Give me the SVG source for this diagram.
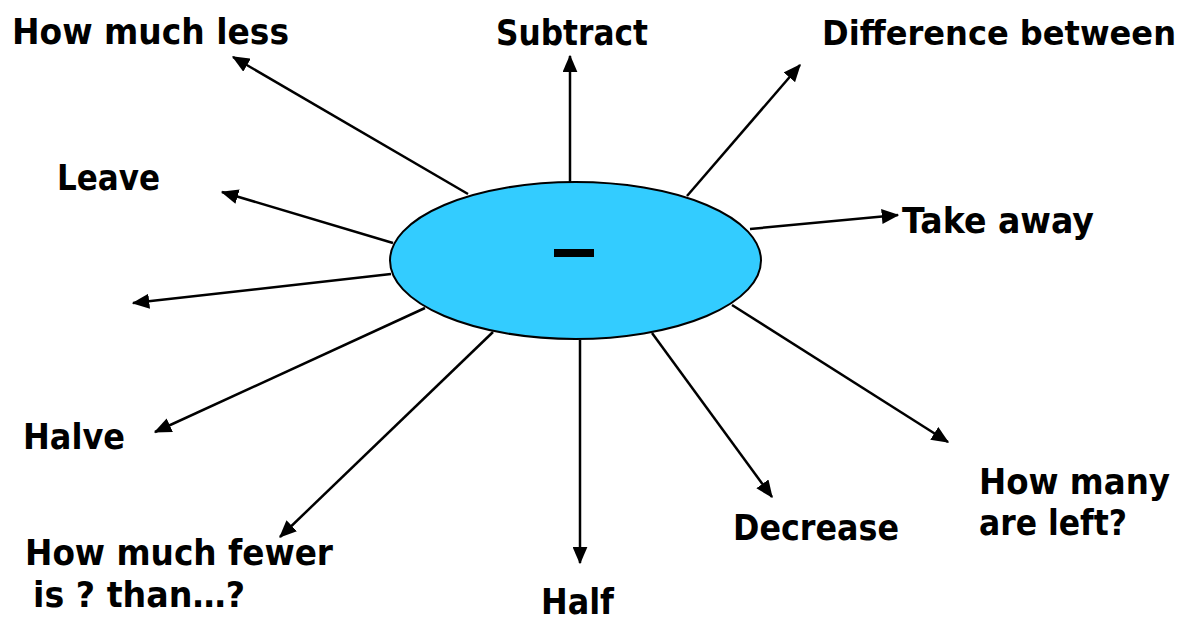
<svg xmlns="http://www.w3.org/2000/svg" width="1191" height="621" viewBox="0 0 1191 621">
<style>
.t{font-family:"DejaVu Sans","Liberation Sans",sans-serif;font-weight:bold;font-size:35px;fill:#000}
.c{stroke:#000;stroke-width:2.5;fill:none;marker-end:url(#ah)}
</style>
<defs>
<marker id="ah" markerWidth="7" markerHeight="6" refX="6.5" refY="3" orient="auto" markerUnits="strokeWidth">
<path d="M0,0 L7,3 L0,6 Z" fill="#000"/>
</marker>
</defs>
<rect width="1191" height="621" fill="#fff"/>
<g id="connectors">
<line class="c" x1="468" y1="194" x2="233" y2="57"/>
<line class="c" x1="570" y1="182" x2="570" y2="56"/>
<line class="c" x1="687" y1="196" x2="800" y2="65"/>
<line class="c" x1="750" y1="229" x2="898" y2="215"/>
<line class="c" x1="393" y1="243" x2="222" y2="192"/>
<line class="c" x1="391" y1="274" x2="133" y2="303"/>
<line class="c" x1="425" y1="308" x2="155" y2="432"/>
<line class="c" x1="493" y1="332" x2="280" y2="537"/>
<line class="c" x1="580" y1="340" x2="580" y2="563"/>
<line class="c" x1="652" y1="333" x2="772" y2="497"/>
<line class="c" x1="732" y1="305" x2="948" y2="442"/>
</g>
<g id="center">
<ellipse cx="575.5" cy="260.5" rx="185.5" ry="78.5" fill="#33ccff" stroke="#000" stroke-width="2"/>
<rect x="554" y="249" width="40" height="8" fill="#000"/>
</g>
<g id="n-howmuchless"><text class="t" x="12" y="44" textLength="277" lengthAdjust="spacingAndGlyphs">How much less</text></g>
<g id="n-subtract"><text class="t" x="496" y="45" textLength="152" lengthAdjust="spacingAndGlyphs">Subtract</text></g>
<g id="n-difference"><text class="t" x="822" y="45" style="font-size:33px" textLength="354" lengthAdjust="spacingAndGlyphs">Difference between</text></g>
<g id="n-leave"><text class="t" x="57" y="190" textLength="103" lengthAdjust="spacingAndGlyphs">Leave</text></g>
<g id="n-takeaway"><text class="t" x="902" y="233" textLength="192" lengthAdjust="spacingAndGlyphs">Take away</text></g>
<g id="n-halve"><text class="t" x="23" y="449" textLength="102" lengthAdjust="spacingAndGlyphs">Halve</text></g>
<g id="n-howmany"><text class="t" x="979" y="494" textLength="191" lengthAdjust="spacingAndGlyphs">How many</text><text class="t" x="979" y="535" textLength="148" lengthAdjust="spacingAndGlyphs">are left?</text></g>
<g id="n-decrease"><text class="t" x="733" y="540" textLength="166" lengthAdjust="spacingAndGlyphs">Decrease</text></g>
<g id="n-fewer"><text class="t" x="25" y="565" textLength="308" lengthAdjust="spacingAndGlyphs">How much fewer</text><text class="t" x="33" y="607" textLength="212" lengthAdjust="spacingAndGlyphs">is ? than…?</text></g>
<g id="n-half"><text class="t" x="541" y="614" textLength="73" lengthAdjust="spacingAndGlyphs">Half</text></g>
</svg>
